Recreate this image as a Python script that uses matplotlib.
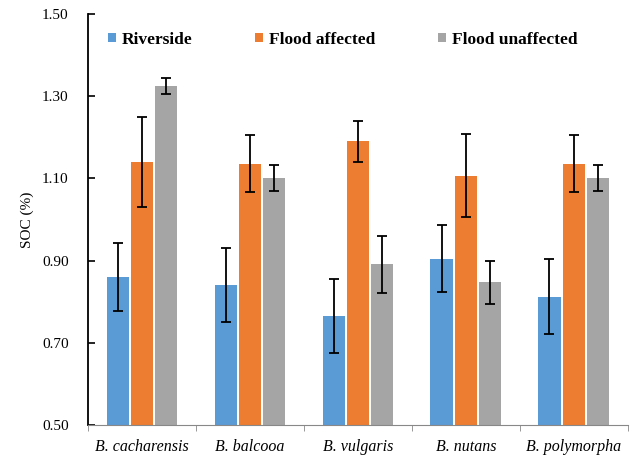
import numpy as np
import matplotlib
matplotlib.use("Agg")
import matplotlib.pyplot as plt
from matplotlib.ticker import FixedLocator

# species en meetwaarden (SOC %)
species = ["B. cacharensis", "B. balcooa", "B. vulgaris", "B. nutans", "B. polymorpha"]
series = ["Riverside", "Flood affected", "Flood unaffected"]
riverside = [0.86, 0.84, 0.765, 0.905, 0.812]
riverside_err = [0.082, 0.09, 0.09, 0.081, 0.091]
flood_affected = [1.14, 1.136, 1.19, 1.107, 1.136]
flood_affected_err = [0.11, 0.07, 0.051, 0.101, 0.07]
flood_unaffected = [1.325, 1.101, 0.891, 0.847, 1.101]
flood_unaffected_err = [0.02, 0.032, 0.07, 0.052, 0.031]
yticks = [0.50, 0.70, 0.90, 1.10, 1.30, 1.50]

values = [riverside, flood_affected, flood_unaffected]
errors = [riverside_err, flood_affected_err, flood_unaffected_err]
colors = ["#5B9BD5", "#ED7D31", "#A5A5A5"]

fig = plt.figure(figsize=(6.35, 4.55), dpi=100)
ax = fig.add_axes([0.1386, 0.066, 0.85, 0.903])

x = np.arange(len(species))
step = 0.225
width = 0.205
for i, (vals, errs) in enumerate(zip(values, errors)):
    ax.bar(x + (i - 1) * step, vals, width, color=colors[i],
           label=series[i], yerr=errs, capsize=3.5,
           error_kw=dict(ecolor="black", elinewidth=1.3, capthick=1.3))

# assen
ax.set_ylim(0.5, 1.5)
ax.set_xlim(-0.5, len(species) - 0.5)
ax.set_yticks(yticks)
ax.set_yticklabels(["%.2f" % v for v in yticks], family="Liberation Serif", fontsize=11)
ax.set_xticks(x)
ax.set_xticklabels(species, family="Liberation Serif", style="italic", fontsize=11.5)
ax.xaxis.set_minor_locator(FixedLocator(np.arange(len(species) + 1) - 0.5))
ax.tick_params(axis="x", which="major", length=0, pad=10)
ax.tick_params(axis="x", which="minor", length=4, color="#888888", direction="out")
ax.tick_params(axis="y", length=5, width=1.2, direction="in", pad=14)
ax.set_ylabel("SOC (%)", family="Liberation Serif", fontsize=11, labelpad=6)

ax.spines["top"].set_visible(False)
ax.spines["right"].set_visible(False)
ax.spines["left"].set_linewidth(1.3)
ax.spines["bottom"].set_color("#888888")

leg = ax.legend(loc="upper left", ncol=3, frameon=False, bbox_to_anchor=(0.008, 0.995),
                handlelength=0.45, handleheight=0.45, handletextpad=0.35, columnspacing=3.6,
                prop={"family": "Liberation Serif", "weight": "bold", "size": 12.5})

fig.savefig("out.png", dpi=100)
